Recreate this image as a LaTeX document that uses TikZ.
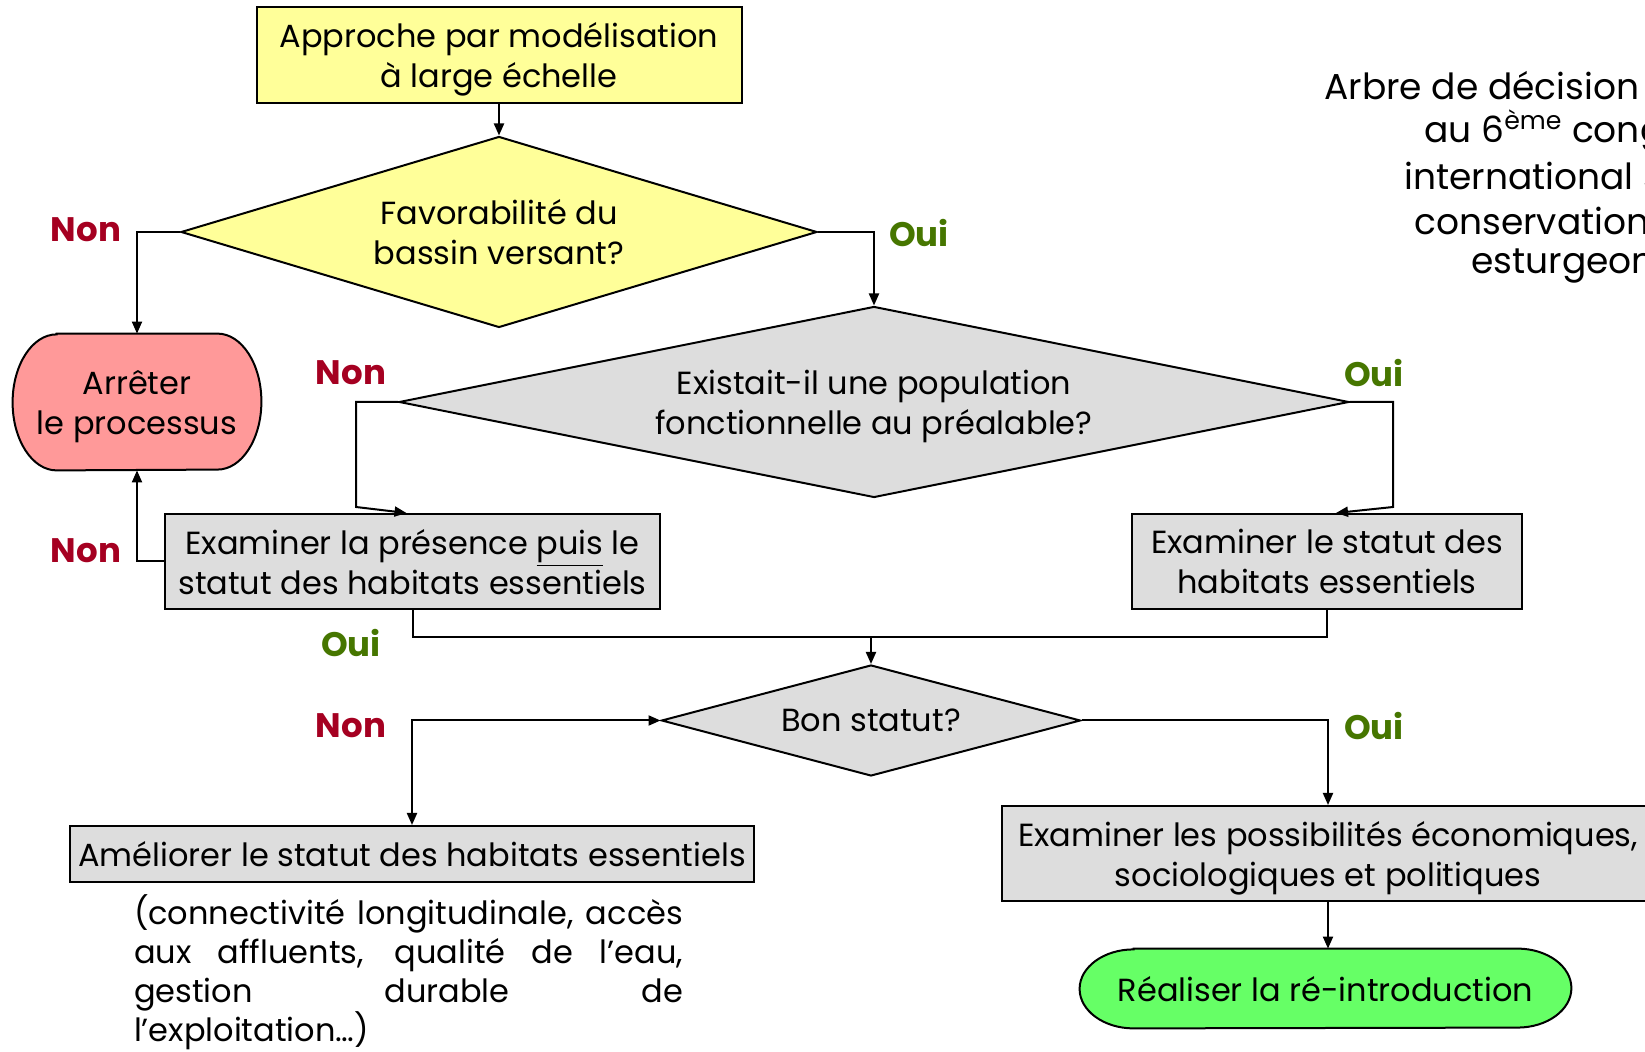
\documentclass[tikz,border=0pt]{standalone}
\usepackage{fontspec}
\setmainfont{Poppins}
\usetikzlibrary{shapes.geometric,arrows.meta,calc}
\definecolor{boxgray}{RGB}{221,221,221}
\definecolor{boxyellow}{RGB}{255,255,153}
\definecolor{stoppink}{RGB}{255,153,153}
\definecolor{gogreen}{RGB}{102,255,102}
\definecolor{nonred}{RGB}{165,0,33}
\definecolor{ouigreen}{RGB}{70,118,0}

\begin{document}
\begin{tikzpicture}[x=0.5pt,y=-0.5pt]
    \tikzstyle{box}=[draw=black,line width=1pt,fill=boxgray,align=center,inner sep=0pt,text depth=0pt,font=\fontsize{16}{20}\selectfont]
    \tikzstyle{choice}=[box,diamond]
    \tikzstyle{ends}=[align=center,inner sep=0pt,text depth=0pt,font=\fontsize{16}{20}\selectfont]
    \tikzstyle{non}=[text=nonred,font=\fontsize{17}{20}\selectfont\bfseries]
    \tikzstyle{oui}=[text=ouigreen,font=\fontsize{17}{20}\selectfont\bfseries]
    \tikzstyle{link}=[line width=1pt]
    \tikzstyle{flow}=[link,-{Triangle[length=6pt,width=5pt]}]

    \useasboundingbox (0,0) rectangle (1645,1052);

    % boxes and decisions
    \node[box,fill=boxyellow,minimum width=242.5pt,minimum height=48pt] (approche) at (499,55) {Approche par modélisation\\à large échelle};
    \node[choice,aspect=3.3,fill=boxyellow,minimum width=318pt,minimum height=95.5pt] (bassin) at (499,232) {Favorabilité du\\bassin versant?};
    \node[ends,minimum width=124pt,minimum height=68pt] (arreter) at (137,402) {Arrêter\\le processus};
    \node[choice,aspect=5,minimum width=475pt,minimum height=95.5pt] (population) at (874,402) {Existait-il une population\\fonctionnelle au préalable?};
    \node[box,minimum width=247.5pt,minimum height=47.5pt] (presence) at (412.5,561.5) {Examiner la présence \underline{puis} le\\statut des habitats essentiels};
    \node[box,minimum width=195pt,minimum height=47.5pt] (statut) at (1327,561.5) {Examiner le statut des\\habitats essentiels};
    \node[choice,aspect=3.8,minimum width=209.5pt,minimum height=55.5pt] (bon) at (871,720.5) {Bon statut?};
    \node[box,minimum width=342pt,minimum height=28pt] (ameliorer) at (412,854) {Améliorer le statut des habitats essentiels};
    \node[text width=274.5pt,align=justify,inner sep=0pt,font=\fontsize{16}{19.5}\selectfont] (details) at (408.5,972) {(connectivité longitudinale, accès\linebreak aux affluents, qualité de l’eau,\linebreak gestion durable de\linebreak l'exploitation…)};
    \node[box,minimum width=326.5pt,minimum height=47.5pt] (possibilites) at (1328,853.5) {Examiner les possibilités économiques,\\sociologiques et politiques};
    \node[ends,minimum width=245.5pt,minimum height=39.5pt] (reintro) at (1325.5,988.5) {Réaliser la ré-introduction};

    % rounded ends
    \draw[link,fill=stoppink] ($(arreter.north west)+(22pt,0)$) -- ($(arreter.north east)+(-22pt,0)$)
        arc[start angle=90,end angle=-90,x radius=22pt,y radius=34pt]
        -- ($(arreter.south west)+(22pt,0)$)
        arc[start angle=270,end angle=90,x radius=22pt,y radius=34pt] -- cycle;
    \node[ends] at (arreter) {Arrêter\\le processus};
    \draw[link,fill=gogreen] ($(reintro.north west)+(27pt,0)$) -- ($(reintro.north east)+(-27pt,0)$)
        arc[start angle=90,end angle=-90,x radius=27pt,y radius=19.75pt]
        -- ($(reintro.south west)+(27pt,0)$)
        arc[start angle=270,end angle=90,x radius=27pt,y radius=19.75pt] -- cycle;
    \node[ends] at (reintro) {Réaliser la ré-introduction};

    % title
    \foreach \txt/\xx/\yy in {Arbre de décision/1324/86, {au 6\textsuperscript{ème} cong}/1424/131, international s/1404/176, conservation/1414/221, esturgeon/1471/266}
        \node[anchor=west,inner sep=0pt,font=\fontsize{18}{22}\selectfont] at (\xx,\yy) {\txt};

    % answers
    \node[non] (non1) at (86,230) {Non};
    \node[oui] (oui1) at (919,233) {Oui};
    \node[non] (non2) at (351,373) {Non};
    \node[oui] (oui2) at (1374,373) {Oui};
    \node[non] (non3) at (86,551) {Non};
    \node[oui] (oui3) at (351,643) {Oui};
    \node[non] (non4) at (351,726) {Non};
    \node[oui] (oui4) at (1374,726) {Oui};

    % connectors
    \coordinate (popleft) at (356,507);
    \coordinate (popright) at (1393,507);
    \coordinate (merge) at (871,637);
    \draw[flow] (approche) -- (bassin);
    \draw[flow] (bassin.west) -| (arreter.north);
    \draw[flow] (bassin.east) -| (population.north);
    \draw[flow] (population.west) -| (popleft) -- ([xshift=-3pt]presence.north);
    \draw[flow] (population.east) -| (popright) -- ([xshift=4.5pt]statut.north);
    \draw[flow] (presence.west) -| (arreter.south);
    \draw[link] (presence.south) |- (merge) -| (statut.south);
    \draw[flow] (merge) -- (bon.north);
    \draw[link,{Triangle[length=6pt,width=5pt]}-{Triangle[length=6pt,width=5pt]}] (bon.west) -| (ameliorer.north);
    \draw[flow] (bon.east) -| (possibilites.north);
    \draw[flow] (possibilites.south) -- (possibilites.south |- reintro.north);

\end{tikzpicture}
\end{document}
